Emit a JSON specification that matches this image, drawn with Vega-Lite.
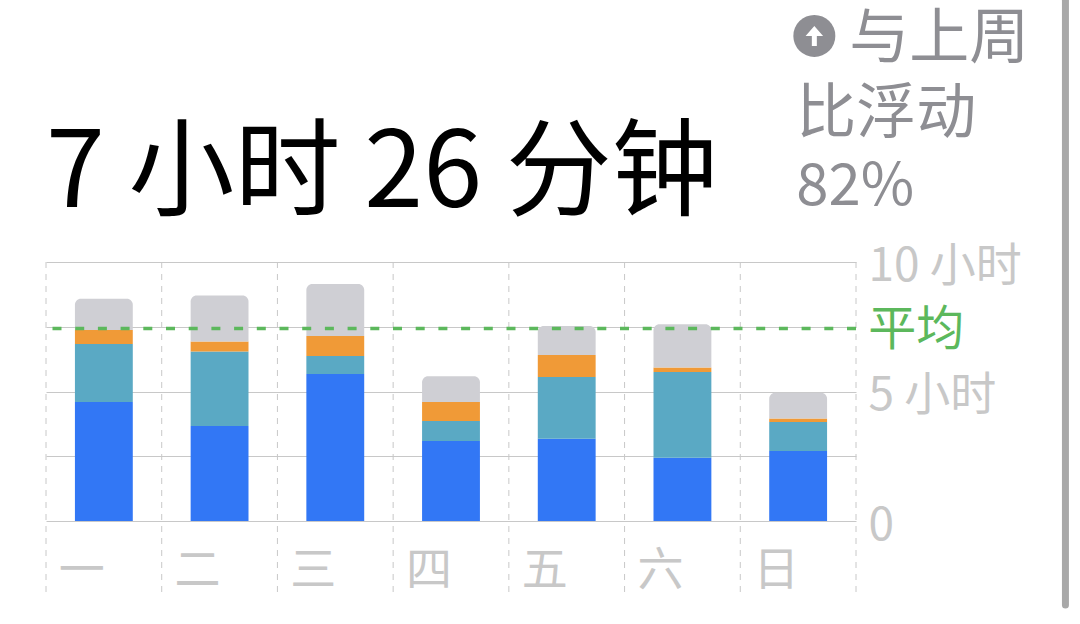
{"$schema":"https://vega.github.io/schema/vega-lite/v6.json","width":810,"height":259,"autosize":{"type":"none"},"padding":{"left":46,"top":262,"right":224,"bottom":103},"background":"#ffffff","view":{"stroke":null},"config":{"font":"Noto Sans CJK SC"},"datasets":{"usage":[{"day":"一","cat":"a","order":1,"hours":4.59},{"day":"一","cat":"b","order":2,"hours":2.24},{"day":"一","cat":"c","order":3,"hours":0.54},{"day":"一","cat":"d","order":4,"hours":1.21},{"day":"二","cat":"a","order":1,"hours":3.67},{"day":"二","cat":"b","order":2,"hours":2.87},{"day":"二","cat":"c","order":3,"hours":0.39},{"day":"二","cat":"d","order":4,"hours":1.78},{"day":"三","cat":"a","order":1,"hours":5.68},{"day":"三","cat":"b","order":2,"hours":0.69},{"day":"三","cat":"c","order":3,"hours":0.77},{"day":"三","cat":"d","order":4,"hours":2.01},{"day":"四","cat":"a","order":1,"hours":3.09},{"day":"四","cat":"b","order":2,"hours":0.77},{"day":"四","cat":"c","order":3,"hours":0.73},{"day":"四","cat":"d","order":4,"hours":1.0},{"day":"五","cat":"a","order":1,"hours":3.18},{"day":"五","cat":"b","order":2,"hours":2.38},{"day":"五","cat":"c","order":3,"hours":0.85},{"day":"五","cat":"d","order":4,"hours":1.12},{"day":"六","cat":"a","order":1,"hours":2.44},{"day":"六","cat":"b","order":2,"hours":3.31},{"day":"六","cat":"c","order":3,"hours":0.18},{"day":"六","cat":"d","order":4,"hours":1.67},{"day":"日","cat":"a","order":1,"hours":2.7},{"day":"日","cat":"b","order":2,"hours":1.12},{"day":"日","cat":"c","order":3,"hours":0.14},{"day":"日","cat":"d","order":4,"hours":0.99}],"days":[{"day":"一"},{"day":"二"},{"day":"三"},{"day":"四"},{"day":"五"},{"day":"六"},{"day":"日"}]},"layer":[{"data":{"name":"usage"},"transform":[{"stack":"hours","groupby":["day"],"sort":[{"field":"order","order":"ascending"}],"as":["y0","y1"]},{"filter":"datum.cat !== 'd'"}],"mark":{"type":"bar","width":{"band":0.5}},"encoding":{"x":{"field":"day","type":"nominal","sort":null,"scale":{"domain":["一","二","三","四","五","六","日"],"paddingInner":0,"paddingOuter":0},"axis":{"title":null,"domain":false,"ticks":false,"labelAngle":0,"labelAlign":"left","labelOffset":-45,"labelPadding":27,"labelBaseline":"top","labelFontSize":46,"labelColor":"#c8c8c8","labelFont":"Noto Sans CJK SC"}},"y":{"field":"y1","type":"quantitative","scale":{"domain":[0,10],"nice":false},"axis":{"orient":"right","title":null,"domain":false,"ticks":false,"values":[0,2.5,5,7.5,10],"grid":true,"gridColor":"#c8c8c8","gridWidth":1,"labelExpr":"datum.value === 0 ? '0' : datum.value === 5 ? '5 小时' : datum.value === 10 ? '10 小时' : ''","labelFontSize":46,"labelColor":"#c8c8c8","labelPadding":12,"labelOffset":4,"labelBound":false,"labelFont":"Noto Sans CJK SC"}},"y2":{"field":"y0"},"color":{"field":"cat","type":"nominal","legend":null,"scale":{"domain":["a","b","c","d"],"range":["#3277f5","#5aa9c4","#f09a37","#cfcfd4"]}}}},{"data":{"name":"usage"},"transform":[{"stack":"hours","groupby":["day"],"sort":[{"field":"order","order":"ascending"}],"as":["y0","y1"]},{"filter":"datum.cat === 'd'"}],"mark":{"type":"bar","width":{"band":0.5},"cornerRadiusTopLeft":6,"cornerRadiusTopRight":6},"encoding":{"x":{"field":"day","type":"nominal","sort":null},"y":{"field":"y1","type":"quantitative"},"y2":{"field":"y0"},"color":{"field":"cat","type":"nominal","legend":null}}},{"data":{"name":"days"},"mark":{"type":"rule","color":"#c8c8c8","strokeWidth":1,"strokeDash":[6,6]},"encoding":{"x":{"field":"day","type":"nominal","sort":null,"bandPosition":0},"y":{"datum":10},"y2":{"datum":-2.95}}},{"data":{"values":[{"edge":"日"}]},"mark":{"type":"rule","color":"#c8c8c8","strokeWidth":1,"strokeDash":[6,6]},"encoding":{"x":{"field":"edge","type":"nominal","sort":null,"bandPosition":1},"y":{"datum":10},"y2":{"datum":-2.95}}},{"data":{"values":[{"avg":7.43}]},"mark":{"type":"rule","color":"#5cb85c","strokeWidth":3.5,"strokeDash":[9,13.7]},"encoding":{"y":{"field":"avg","type":"quantitative"}}},{"data":{"values":[{"label":"平均","avg":7.34}]},"mark":{"type":"text","align":"left","baseline":"middle","fontSize":48,"color":"#5cb85c","font":"Noto Sans CJK SC"},"encoding":{"x":{"datum":"日","bandPosition":1.105},"y":{"field":"avg","type":"quantitative"},"text":{"field":"label"}}},{"data":{"values":[{"label":"7 小时 26 分钟"}]},"mark":{"type":"text","align":"left","baseline":"alphabetic","fontSize":106,"color":"#000000","font":"Noto Sans CJK SC"},"encoding":{"x":{"datum":"一","bandPosition":0},"y":{"datum":12.12},"text":{"field":"label"}}},{"data":{"values":[{"label":"与上周"}]},"mark":{"type":"text","align":"left","baseline":"alphabetic","fontSize":60,"color":"#8e8e93","font":"Noto Sans CJK SC"},"encoding":{"x":{"datum":"日","bandPosition":0.942},"y":{"datum":17.88},"text":{"field":"label"}}},{"data":{"values":[{"label":"比浮动"}]},"mark":{"type":"text","align":"left","baseline":"alphabetic","fontSize":60,"color":"#8e8e93","font":"Noto Sans CJK SC"},"encoding":{"x":{"datum":"日","bandPosition":0.484},"y":{"datum":14.98},"text":{"field":"label"}}},{"data":{"values":[{"label":"82%"}]},"mark":{"type":"text","align":"left","baseline":"alphabetic","fontSize":58,"color":"#8e8e93","font":"Noto Sans CJK SC"},"encoding":{"x":{"datum":"日","bandPosition":0.484},"y":{"datum":12.2},"text":{"field":"label"}}},{"data":{"values":[{"icon":"up"}]},"mark":{"type":"point","filled":true,"shape":"circle","size":1764,"opacity":1,"color":"#8e8e93"},"encoding":{"x":{"datum":"日","bandPosition":0.64},"y":{"datum":18.73}}},{"data":{"values":[{"icon":"arrow"}]},"mark":{"type":"point","filled":true,"shape":"M0,-0.8L0.7,0L0.2,0L0.2,0.8L-0.2,0.8L-0.2,0L-0.7,0Z","size":625,"opacity":1,"color":"#ffffff"},"encoding":{"x":{"datum":"日","bandPosition":0.64},"y":{"datum":18.73}}},{"data":{"values":[{"bar":"scroll"}]},"mark":{"type":"rule","color":"#a8a8a8","strokeWidth":7,"strokeCap":"round"},"encoding":{"x":{"datum":"日","bandPosition":2.81},"y":{"datum":20.1},"y2":{"datum":-3.24}}}]}
